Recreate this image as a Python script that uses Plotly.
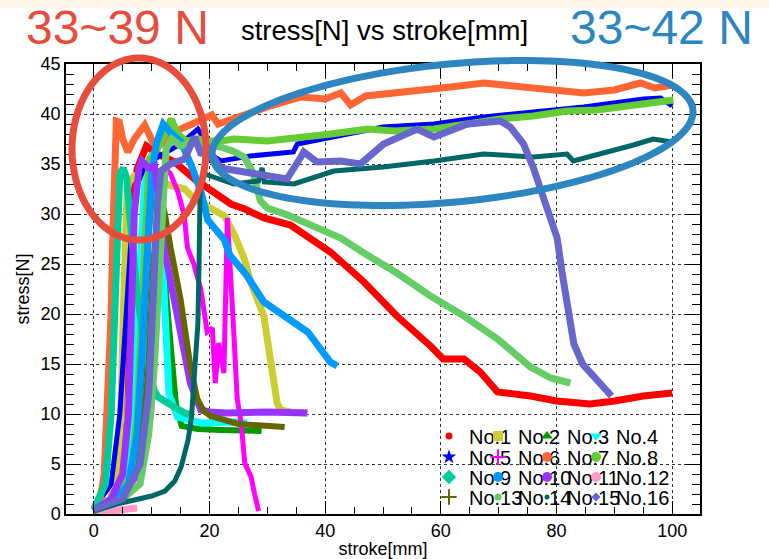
import numpy as np
import plotly.graph_objects as go

# ---------------- data ----------------
names = ["No.1", "No.2", "No.3", "No.4", "No.5", "No.6", "No.7", "No.8",
         "No.9", "No.10", "No.11", "No.12", "No.13", "No.14", "No.15", "No.16"]

x1 = [0, 3, 4.3, 5, 5.7, 6.5, 7.5, 9.1, 11, 14, 17.4, 21.4, 23.7, 26.1, 29.4, 34, 40.9, 46.7, 52.4, 58.2, 60.4, 64, 66.8, 69.8, 75.5, 80, 85.8, 90, 95, 100]
y1 = [0.3, 1.5, 5, 12, 22, 30, 34.5, 36.8, 36, 35.2, 33.5, 31.8, 31, 30.5, 29.6, 28.9, 26.2, 23.2, 19.8, 16.8, 15.5, 15.5, 14.2, 12.2, 11.8, 11.3, 11.0, 11.3, 11.8, 12.1]

x2 = [0, 3, 4, 4.7, 5.1, 5.4, 5.8, 7, 9, 12.8, 15.7, 17.4, 19.7, 22.6, 24.4, 26.1, 27.1, 29.4, 30.6, 31.7, 32.3, 34, 37]
y2 = [0.5, 1.5, 4, 10, 20, 28, 33, 33.8, 33.5, 32.8, 32.5, 31.5, 30.8, 29.8, 27.8, 25.4, 23.2, 19.8, 15.2, 11.1, 10.4, 10.2, 10.1]

x3 = [0, 4, 7, 8.5, 9.5, 10.3, 11, 11.8, 12.5, 13.3, 14.2, 15.2, 18, 22, 29]
y3 = [0.3, 1.5, 5, 15, 28, 33.5, 33, 28, 22, 16, 11, 8.8, 8.5, 8.4, 8.3]

x4 = [0, 4, 6, 7, 8, 8.8, 9.4, 10.5, 11.5, 12, 12.4, 13, 14.5, 18.6, 24.9, 26.5]
y4 = [0.3, 2, 5, 12, 25, 33, 34.1, 33.5, 30, 24, 17, 12, 9.7, 9.1, 9.2, 9.1]

x5 = [0, 3, 4.5, 5.5, 6.5, 7.5, 9, 12, 15, 18, 19, 20, 22, 27, 34.5, 35.2, 41.5, 50, 58.8, 67.4, 76, 84.7, 95, 98, 100]
y5 = [0.5, 3, 10, 20, 28, 33, 35, 36, 37, 38.5, 37.5, 36, 35.3, 35.8, 36.2, 37, 37.7, 38.7, 39, 39.7, 40.2, 40.7, 41.5, 41.6, 40.8]

x6 = [0, 4, 8, 10, 11, 11.8, 12.5, 13.3, 14.5, 15.6, 16.2, 17.3, 18.5, 19.6, 20.5, 21, 21.6, 22.5, 23.1, 23.6, 24.2, 24.8, 25.5, 26.1, 27.2, 27.8, 28.5]
y6 = [0.3, 1.5, 4, 10, 20, 30, 34.5, 34, 32.3, 30, 26.6, 25, 22.5, 18.2, 18.6, 13.1, 17.1, 14.1, 29.6, 25, 18.2, 11.5, 9, 5.1, 3.7, 2, 0.3]

x7 = [0, 1, 1.8, 2.5, 3, 3.3, 3.5, 3.9, 4.4, 5, 5.9, 7, 8.8, 10.2, 11, 13, 15, 17, 19, 20.4, 21.5, 23, 26, 30, 35.8, 40, 42.7, 44.4, 47, 53, 57, 61.7, 67.4, 72, 76, 80, 84.7, 90, 94.5, 97, 100.2]
y7 = [0.3, 1, 4, 12, 20, 28, 35, 39.3, 39.2, 37.5, 36.2, 37.5, 38.9, 37.2, 36.7, 37.5, 38.5, 39, 39.5, 39.9, 39, 39.3, 40, 40.7, 41.7, 41.5, 42.1, 40.9, 41.8, 42.1, 42.4, 42.7, 43.1, 42.8, 42.6, 42.3, 42.1, 42.4, 43.1, 42.6, 42.9]

x8 = [0, 4, 6.5, 7.5, 8.3, 9, 9.6, 11, 12.5, 13.4, 14.5, 16, 18, 20, 22, 24.2, 30, 35.8, 41, 47.3, 52, 58.8, 64, 70.3, 76, 81.8, 87, 93.3, 100.2]
y8 = [0.3, 1.5, 4, 10, 20, 30, 35.5, 36.5, 38.5, 39.5, 38, 37.3, 37.5, 37.3, 37.3, 37.5, 37.3, 37.6, 38, 38.5, 38.3, 38.5, 39, 39.5, 39.8, 40.3, 40.4, 40.8, 41.4]

x9 = [0, 2, 3, 3.5, 4, 4.5, 5.1, 5.7, 6.2, 6.7, 7.5, 8.5, 9.5, 10.5, 11.1, 12.8, 15.7, 17]
y9 = [0.5, 3, 10, 20, 30, 34, 34.6, 33.5, 30, 26, 22, 18, 14.5, 12.3, 11.7, 11.1, 10.1, 9.9]

x10 = [0, 4, 6, 7.5, 8.5, 9.3, 10, 10.8, 12, 13.5, 15.1, 16.9, 18.6, 19.7, 22.6, 23.5, 26.4, 29.4, 32.8, 37, 40.9, 42.1]
y10 = [0.5, 1.5, 3, 8, 18, 28, 34, 37, 39, 38, 37.2, 34.8, 32.1, 29.4, 27.4, 25.9, 23.9, 21.2, 19.8, 18.2, 15.2, 14.8]

x11 = [0, 3, 5, 6, 6.5, 7, 7.8, 8.3, 9.5, 10.5, 11.5, 12.7, 15, 16.7, 18.5, 20, 23, 30, 36.9]
y11 = [0.3, 1.5, 4, 10, 20, 30, 34.5, 35.3, 34.6, 34.8, 30, 25, 18.2, 13.1, 10.4, 10.2, 10.1, 10.2, 10.1]

x12 = [0, 2, 4, 6, 7.5]
y12 = [0.1, 0.2, 0.3, 0.4, 0.6]

x13 = [0, 5, 8, 9.5, 10.3, 11, 11.6, 12.3, 13.3, 15, 16.7, 17.9, 19, 20.2, 25, 31.7, 33]
y13 = [0.3, 1.5, 5, 15, 25, 30, 31.6, 30, 26.6, 21.5, 14.8, 11.5, 10.3, 9.8, 9, 8.8, 8.7]

x14 = [0, 5, 8, 9.5, 10.5, 11.3, 12, 12.5, 13.5, 15, 17, 19.5, 21.9, 24, 26, 27.1, 27.6, 28.8, 30, 33.5, 37.5, 42.7, 46.7, 52.4, 58.2, 64, 69.8, 75.5, 79, 82.4]
y14 = [0.3, 1.5, 3, 8, 15, 25, 33, 36.5, 37.5, 36.8, 37.2, 37, 36.7, 36.3, 35.7, 34.6, 34, 31.3, 30.6, 29.9, 28.9, 27.6, 26.1, 24.1, 21.8, 19.8, 17.5, 14.7, 13.6, 13.1]

x15 = [0, 4, 10, 12.3, 14, 15.1, 16.3, 16.9, 17.4, 18, 18.2, 18.4, 19.2, 21, 24.2, 28.5, 29.1, 29.5, 34.6, 41.5, 50, 58.8, 67.4, 76, 81.8, 82.9, 87.6, 93.3, 96.7, 100]
y15 = [0.3, 1, 1.8, 2.3, 3.3, 4.7, 7.4, 9.7, 14, 19, 25, 33, 34, 33.6, 33, 33.3, 34.6, 33.2, 33, 34.3, 34.7, 35.3, 36, 35.7, 36, 35.3, 36, 36.9, 37.5, 37.2]

x16 = [0, 5, 8, 9.5, 10.3, 11, 11.6, 13.3, 15.7, 17.4, 18.6, 19.6, 21.9, 27.1, 33.4, 35.8, 36.3, 38.6, 42.7, 46.1, 50.1, 55.9, 58.8, 64.6, 70.3, 72, 74.3, 76, 78.4, 80.1, 81, 82, 83, 84.5, 87, 89.5]
y16 = [0.5, 1.5, 5, 12, 22, 31, 34.3, 35, 35.5, 37.7, 35.9, 36.7, 34.6, 34.1, 33.5, 35.7, 36.2, 35.2, 35.3, 35, 37, 38.5, 37.7, 39, 39.3, 38.7, 37, 34.6, 30.6, 27.6, 24, 20, 17, 15, 13.5, 11.8]

xs = [x1, x2, x3, x4, x5, x6, x7, x8, x9, x10, x11, x12, x13, x14, x15, x16]
ys = [y1, y2, y3, y4, y5, y6, y7, y8, y9, y10, y11, y12, y13, y14, y15, y16]

# ---------------- styles ----------------
colors = ["#FF0000", "#CCCC33", "#009900", "#00FFFF", "#0000FF", "#FF00FF", "#FF6633", "#66CC33",
          "#00CC99", "#0099FF", "#9933FF", "#FF99CC", "#666600", "#66CC66", "#006666", "#6666CC"]
symbols = ["circle", "square", "triangle-up", "triangle-down", "star", "cross-thin-open", "circle", "circle",
           "diamond", "circle", "circle", "circle", "cross-thin-open", "circle", "circle", "diamond"]
msizes = [6, 9, 9, 9, 10, 10, 9, 9, 10, 9, 9, 9, 10, 6, 4, 6]
widths = [7, 7, 6, 7, 5, 5, 7, 7, 7, 7, 7, 7, 6, 7, 5, 7]

W, H = 769, 559
L, R, T, B = 66, 69, 64, 45
PW, PH = W - L - R, H - T - B
FONT = "Liberation Sans, Arial, sans-serif"


def px(xp):
    return (xp - L) / PW


def py(yp):
    return (H - B - yp) / PH


fig = go.Figure()
for i in range(16):
    fig.add_trace(go.Scatter(x=xs[i], y=ys[i], mode="lines",
                             line=dict(color=colors[i], width=widths[i]),
                             showlegend=False, name=names[i]))

# legend proxies (4 rows, 4 entries each)
legend_ids = ["legend", "legend2", "legend3", "legend4"]
for i in range(16):
    sym = symbols[i]
    mk = dict(symbol=sym, size=msizes[i] + 1, color=colors[i])
    if "open" in sym:
        mk["line"] = dict(color=colors[i], width=2)
    extra = {}
    if i % 4 == 3:
        extra["legendwidth"] = 60
    fig.add_trace(go.Scatter(x=[None], y=[None], mode="markers", marker=mk,
                             name=names[i], legend=legend_ids[i // 4], showlegend=True, **extra))

row_y = [436, 457, 477, 497]
leg_common = dict(orientation="h", xanchor="left", yanchor="middle", bgcolor="rgba(0,0,0,0)",
                  font=dict(family=FONT, size=20, color="black"), entrywidth=4,
                  entrywidthmode="pixels", itemwidth=30, tracegroupgap=0)
legends = {}
for k, lid in enumerate(legend_ids):
    legends[lid] = dict(x=px(429), y=py(row_y[k]), **leg_common)


def ellipse_path(cx, cy, a, b, theta_deg, n=160):
    t = np.linspace(0, 2 * np.pi, n, endpoint=False)
    th = np.radians(theta_deg)
    xe = cx + a * np.cos(th) * np.cos(t) - b * np.sin(th) * np.sin(t)
    ye = cy + a * np.sin(th) * np.cos(t) + b * np.cos(th) * np.sin(t)
    pts = ["%.5f,%.5f" % (px(a_), py(b_)) for a_, b_ in zip(xe, ye)]
    return "M " + " L ".join(pts) + " Z"


RED = "#E74C3C"
BLUE = "#2E86C1"
shapes = [
    dict(type="rect", xref="paper", yref="paper", x0=px(0), x1=px(W), y0=py(8), y1=py(0),
         fillcolor="#FDF4E7", line=dict(width=0), layer="below"),
    dict(type="path", xref="paper", yref="paper", path=ellipse_path(139, 149, 67, 91, 0),
         line=dict(color=RED, width=7), layer="above"),
    dict(type="path", xref="paper", yref="paper", path=ellipse_path(452.5, 133, 241.5, 69, -5.5),
         line=dict(color=BLUE, width=7), layer="above"),
]

BIGFONT = "Liberation Sans, Arial, sans-serif"
annotations = [
    dict(text="33~39 N", xref="paper", yref="paper", x=px(117.5), y=py(27.2), xanchor="center",
         yanchor="middle", showarrow=False,
         font=dict(family=BIGFONT, size=48, color=RED)),
    dict(text="33~42 N", xref="paper", yref="paper", x=px(661), y=py(27.2), xanchor="center",
         yanchor="middle", showarrow=False,
         font=dict(family=BIGFONT, size=48, color=BLUE)),
]

axis_common = dict(showline=True, linecolor="black", linewidth=1.5, mirror="ticks",
                   ticks="inside", tickcolor="black", tickwidth=1,
                   showgrid=True, gridcolor="#333333", griddash="dot", gridwidth=1,
                   zeroline=False, tickfont=dict(family=FONT, size=18, color="black"))

fig.update_layout(
    width=W, height=H, margin=dict(l=L, r=R, t=T, b=B, autoexpand=False),
    paper_bgcolor="white", plot_bgcolor="white",
    title=dict(text="stress[N] vs stroke[mm]", x=0.5, xref="container", xanchor="center",
               y=1 - 30 / H, yref="container", yanchor="middle",
               font=dict(family=FONT, size=27.5, color="black")),
    xaxis=dict(range=[-4.8, 104.8], tick0=0, dtick=20, ticklen=13,
               minor=dict(ticks="inside", ticklen=7, dtick=5, tick0=0, tickcolor="black", showgrid=False),
               title=dict(text="stroke[mm]", font=dict(family=FONT, size=18, color="black"), standoff=2),
               automargin=False, **axis_common),
    yaxis=dict(range=[0, 45], tick0=0, dtick=5, ticklen=15,
               minor=dict(ticks="inside", ticklen=8, dtick=1, tick0=0, tickcolor="black", showgrid=False),
               title=dict(text="stress[N]", font=dict(family=FONT, size=18, color="black"), standoff=6),
               automargin=False, **axis_common),
    shapes=shapes, annotations=annotations,
    **legends,
)

fig.write_html("out.html")
